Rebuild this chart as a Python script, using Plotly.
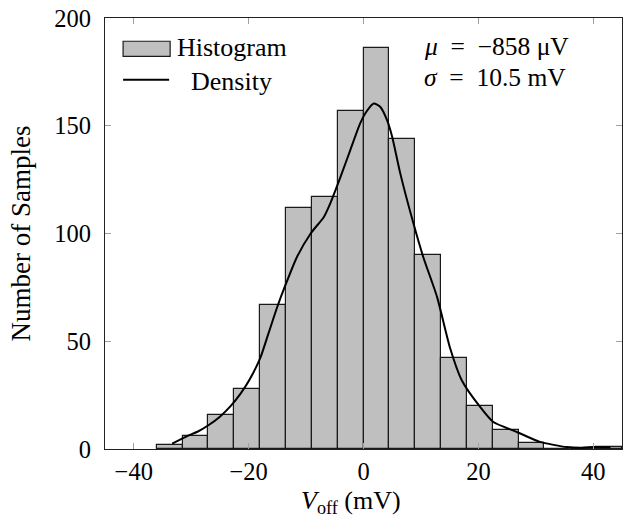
import plotly.graph_objects as go

# Histogram bins (mV) and counts
bin_start = -36.0
bin_width = 4.5
counts = [2, 6, 16, 28, 67, 112, 117, 157, 186, 144, 90, 42, 20, 9, 3, 0, 0, 1]
bin_centers = [bin_start + bin_width * (i + 0.5) for i in range(len(counts))]

# Density curve (scaled to counts)
dens_x = [-33.3, -30.7, -28.9, -27.0, -25.0, -23.1, -21.4, -19.9, -18.0, -16.5, -15.0,
          -13.6, -11.6, -9.2, -6.9, -5.8, -4.0, -2.3, -0.6, 0.5, 1.8, 2.9, 4.1,
          5.0, 6.4, 8.7, 10.4, 12.8, 15.1, 17.1, 20.3, 22.6, 26.7, 30.7, 35.4, 38.0, 40.0, 43.0]
dens_y = [2.5, 6.0, 8.0, 11.0, 15.0, 20.0, 25.7, 31.9, 42.0, 54.0, 66.0,
          76.0, 89.0, 100.0, 107.7, 113.9, 126.3, 138.7, 151.0, 156.5, 160.3, 158.8, 152.6,
          144.8, 127.9, 104.6, 89.1, 70.6, 46.6, 31.9, 19.5, 12.5, 7.9, 3.3, 0.9, 0.6, 0.9, 0.8]

x_ticks = [-40, -20, 0, 20, 40]
y_ticks = [0, 50, 100, 150, 200]

FONT = "Liberation Serif"
SP = "\u2002"
TH = "\u2005"

fig = go.Figure()
fig.add_trace(go.Bar(
    x=bin_centers, y=counts, width=bin_width,
    marker=dict(color="#bfbfbf", line=dict(color="#1a1a1a", width=1.2)),
    name="Histogram", showlegend=False,
))
fig.add_trace(go.Scatter(
    x=dens_x, y=dens_y, mode="lines",
    line=dict(color="black", width=2, shape="spline", smoothing=0.6),
    name="Density", showlegend=False,
))

# Legend drawn manually (pgfplots style)
fig.add_shape(type="rect", xref="paper", yref="paper",
              x0=0.035, x1=0.126, y0=0.911, y1=0.946,
              fillcolor="#bfbfbf", line=dict(color="#1a1a1a", width=1.2))
fig.add_shape(type="line", xref="paper", yref="paper",
              x0=0.035, x1=0.124, y0=0.857, y1=0.857,
              line=dict(color="black", width=2))
fig.add_annotation(xref="paper", yref="paper", x=0.246, y=0.931, text="Histogram",
                   showarrow=False, xanchor="center", yanchor="middle",
                   font=dict(family=FONT, size=26, color="black"))
fig.add_annotation(xref="paper", yref="paper", x=0.244, y=0.853, text="Density",
                   showarrow=False, xanchor="center", yanchor="middle",
                   font=dict(family=FONT, size=26, color="black"))
fig.add_annotation(xref="paper", yref="paper", x=0.613, y=0.933,
                   text=f"<i>μ</i>{SP}={SP}−858{TH}μV",
                   showarrow=False, xanchor="left", yanchor="middle",
                   font=dict(family=FONT, size=25.5, color="black"))
fig.add_annotation(xref="paper", yref="paper", x=0.613, y=0.862,
                   text=f"<i>σ</i>{SP}={SP}10.5{TH}mV",
                   showarrow=False, xanchor="left", yanchor="middle",
                   font=dict(family=FONT, size=25.5, color="black"))
# x-axis title
fig.add_annotation(xref="paper", yref="paper", x=0.476, y=-0.122,
                   text="<i>V</i><sub>off</sub> (mV)",
                   showarrow=False, xanchor="center", yanchor="middle",
                   font=dict(family=FONT, size=26, color="black"))

axis_common = dict(
    showgrid=False, zeroline=False, automargin=False,
    showline=True, linecolor="#222222", linewidth=1.2, mirror="ticks",
    ticks="inside", ticklen=6, tickcolor="#a0a0a0", tickwidth=1,
    tickfont=dict(family=FONT, size=24.5, color="black"),
)

fig.update_xaxes(range=[-45, 45], tickvals=x_ticks, ticktext=[str(v).replace("-", "−") for v in x_ticks],
                 ticklabelstandoff=0,
                 **axis_common)
fig.update_yaxes(range=[0, 200], tickvals=y_ticks, ticktext=[str(v) for v in y_ticks],
                 title=dict(text="Number of Samples", font=dict(family=FONT, size=27, color="black")),
                 ticklabelstandoff=8,
                 **axis_common)

fig.update_layout(
    width=625, height=521,
    margin=dict(l=105, r=3, t=18, b=72),
    paper_bgcolor="white", plot_bgcolor="white",
    bargap=0,
    showlegend=False,
    font=dict(family=FONT, color="black"),
)

# remove the default 8px page margin so the figure fills the window exactly
fig.write_html("out.html", config={"displayModeBar": False},
               post_script="document.body.style.margin='0';")
